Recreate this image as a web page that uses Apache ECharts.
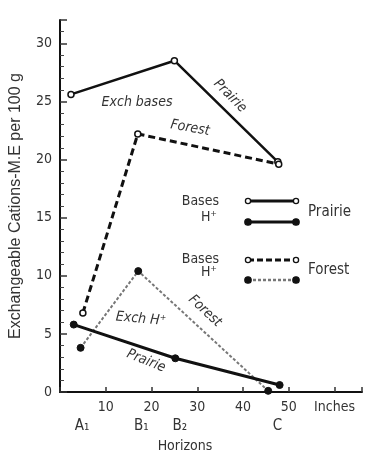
<!DOCTYPE html>
<html>
<head>
<meta charset="utf-8">
<script src="https://cdn.jsdelivr.net/npm/echarts@6/dist/echarts.min.js"></script>
<style>
html,body{margin:0;padding:0;background:#fff;}
#c{width:365px;height:453px;}
</style>
</head>
<body>
<div id="c"></div>
<script>
// Depth (inches) and exchangeable cations (M.E. per 100 g)
var prairieBasesX = [2.4, 25, 47.6];
var prairieBasesY = [25.6, 28.5, 19.8];
var forestBasesX = [5, 17, 47.8];
var forestBasesY = [6.8, 22.2, 19.6];
var prairieHX = [3, 25.2, 48];
var prairieHY = [5.8, 2.9, 0.6];
var forestHX = [4.5, 17.1, 45.5];
var forestHY = [3.8, 10.4, 0.1];
var horizonNames = ['A\u2081', 'B\u2081', 'B\u2082', 'C'];
var horizonDepths = [4.8, 17.8, 26.2, 47.5];
var xTicks = [10, 20, 30, 40, 50];
var yTicks = [0, 5, 10, 15, 20, 25, 30];

function pairs(xs, ys){ return xs.map(function(x,i){ return [x, ys[i]]; }); }

var FONT = "'Liberation Sans Narrow','DejaVu Sans Condensed','Liberation Sans',sans-serif";
var chart = echarts.init(document.getElementById('c'));
var openSym = {color:'#fff', borderColor:'#111', borderWidth:1.5};
var fillSym = {color:'#111', borderColor:'#111', borderWidth:1};

chart.setOption({
  animation:false,
  backgroundColor:'#fff',
  grid:{left:58, right:0, top:20, bottom:61},
  xAxis:{
    type:'value', min:0, max:66, interval:10,
    axisLine:{show:true, lineStyle:{color:'#111', width:2}},
    axisTick:{show:true, inside:true, length:5, lineStyle:{color:'#333', width:1.5}},
    axisLabel:{color:'#333', fontFamily:FONT, fontSize:14, margin:8,
      formatter:function(v){ if(v===60) return 'Inches'; return xTicks.indexOf(v)>=0 ? String(v) : ''; }},
    splitLine:{show:false}
  },
  yAxis:{
    type:'value', min:0, max:32, interval:5,
    name:'Exchangeable Cations-M.E per 100 g', nameLocation:'middle', nameRotate:90, nameGap:36,
    nameTextStyle:{color:'#333', fontFamily:"'Liberation Sans','DejaVu Sans',sans-serif", fontSize:16},
    axisLine:{show:true, lineStyle:{color:'#111', width:2}},
    axisTick:{show:true, inside:true, length:7, lineStyle:{color:'#333', width:1.5}},
    minorTick:{show:true, splitNumber:5, length:4, lineStyle:{color:'#444', width:1}},
    axisLabel:{color:'#333', fontFamily:FONT, fontSize:14, margin:8,
      formatter:function(v){ return yTicks.indexOf(v)>=0 ? String(v) : ''; }},
    splitLine:{show:false}
  },
  series:[
    {name:'Prairie H', type:'line', data:pairs(prairieHX, prairieHY), symbol:'circle', symbolSize:7,
     lineStyle:{color:'#111', width:3}, itemStyle:fillSym, z:3},
    {name:'Forest H', type:'line', data:pairs(forestHX, forestHY), symbol:'circle', symbolSize:7,
     lineStyle:{color:'#777', width:2, type:[3,2]}, itemStyle:fillSym, z:2},
    {name:'Prairie bases', type:'line', data:pairs(prairieBasesX, prairieBasesY), symbol:'circle', symbolSize:6,
     lineStyle:{color:'#111', width:2.5}, itemStyle:openSym, z:3},
    {name:'Forest bases', type:'line', data:pairs(forestBasesX, forestBasesY), symbol:'circle', symbolSize:6,
     lineStyle:{color:'#111', width:3, type:[7,4]}, itemStyle:openSym, z:3}
  ]
});

var g = [];
function txt(t, x, y, size, rot, italic, align){
  g.push({type:'text', x:x, y:y, rotation:(rot||0)*Math.PI/180, z:10,
    style:{text:t, fill:'#333', font:(italic?'italic ':'')+size+'px '+FONT,
      align:align||'center', verticalAlign:'middle', textAlign:align||'center', textVerticalAlign:'middle'}});
}
// horizon labels beneath the axis
horizonNames.forEach(function(n, i){
  var p = chart.convertToPixel({gridIndex:0}, [horizonDepths[i], 0]);
  txt(n, p[0], 426, 15, 0, false);
});
txt('Horizons', 185, 446, 14, 0, false);

// in-plot annotations
txt('Exch bases', 137, 102, 14, 0, true);
txt('Prairie', 230, 96, 14, -45, true);
txt('Forest', 190, 128, 14, -10, true);
txt('Exch H\u207a', 141, 319, 14, -5, true);
txt('Forest', 205, 311, 14, -43, true);
txt('Prairie', 146, 361, 14, -22, true);

// legend
function legLine(y, dashed, gray, open){
  g.push({type:'line', shape:{x1:248, y1:y, x2:296, y2:y}, z:10,
    style:{stroke:gray?'#777':'#111', lineWidth:gray?2.5:3, lineDash:dashed?(gray?[3,2]:[6,3]):null}});
  [248, 296].forEach(function(x){
    g.push({type:'circle', shape:{cx:x, cy:y, r:open?2.6:3.2}, z:11,
      style:{fill:open?'#fff':'#111', stroke:'#111', lineWidth:1.3}});
  });
}
txt('Bases', 219, 201, 14, 0, false, 'right');
txt('H\u207a', 217, 217, 14, 0, false, 'right');
legLine(201, false, false, true);
legLine(222, false, false, false);
txt('Prairie', 308, 212, 15, 0, false, 'left');
txt('Bases', 219, 259, 14, 0, false, 'right');
txt('H\u207a', 217, 272, 14, 0, false, 'right');
legLine(260, true, false, true);
legLine(280, true, true, false);
txt('Forest', 308, 270, 15, 0, false, 'left');

chart.setOption({graphic:g});
</script>
</body>
</html>
